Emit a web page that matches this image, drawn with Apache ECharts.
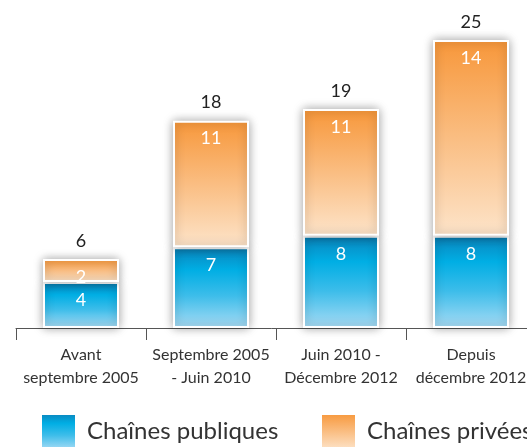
<!DOCTYPE html>
<html>
<head>
<meta charset="utf-8">
<script src="https://cdn.jsdelivr.net/npm/echarts@6/dist/echarts.min.js"></script>
<style>
  html, body { margin: 0; padding: 0; background: #fff; }
  #main { width: 527px; height: 447px; }
</style>
</head>
<body>
<div id="main"></div>
<script>
  // periodes
  var categories = ['Avant\nseptembre 2005', 'Septembre 2005\n- Juin 2010', 'Juin 2010 -\nDécembre 2012', 'Depuis\ndécembre 2012'];
  var publiques = [4, 7, 8, 8];
  // hauteur dessinee dans l'original (la derniere barre monte jusqu'a 25)
  var privees = [2, 11, 11, 17];
  // valeurs affichees dans les barres
  var priveesLabels = [2, 11, 11, 14];
  var totals = [6, 18, 19, 25];

  var font = 'Lato, "Noto Sans", sans-serif';

  var blueGrad = new echarts.graphic.LinearGradient(0, 0, 0, 1, [
    { offset: 0, color: '#0b83bb' },
    { offset: 0.28, color: '#00aee4' },
    { offset: 0.6, color: '#3dbdea' },
    { offset: 1, color: '#a9dcf5' }
  ]);
  var orangeGrad = new echarts.graphic.LinearGradient(0, 0, 0, 1, [
    { offset: 0, color: '#f7973a' },
    { offset: 1, color: '#fde4ca' }
  ]);

  var legendBase = {
    top: 413,
    padding: 0,
    itemWidth: 35,
    itemHeight: 35,
    icon: 'rect',
    textStyle: { fontSize: 24, color: '#333', fontFamily: font, padding: [0, 0, 0, 6] }
  };

  var myChart = echarts.init(document.getElementById('main'));
  myChart.setOption({
    animation: false,
    textStyle: { fontFamily: font },
    grid: {
      left: 16,
      right: -9,
      top: 40,
      bottom: 119,
      outerBoundsMode: 'none'
    },
    legend: [
      Object.assign({ data: ['Chaînes publiques'], left: 40 }, legendBase),
      Object.assign({ data: ['Chaînes privées'], left: 320 }, legendBase)
    ],
    xAxis: {
      type: 'category',
      data: categories,
      axisLine: { lineStyle: { color: '#555', width: 1 } },
      axisTick: { show: true, length: 12, lineStyle: { color: '#555' } },
      axisLabel: { color: '#333', fontSize: 16, lineHeight: 23, margin: 15, interval: 0 }
    },
    yAxis: {
      type: 'value',
      min: 0,
      max: 25,
      show: false,
      splitLine: { show: false }
    },
    series: [
      {
        name: 'Chaînes publiques',
        type: 'bar',
        stack: 'all',
        barWidth: 76,
        data: publiques,
        itemStyle: {
          color: blueGrad,
          borderColor: '#fff',
          borderWidth: 2,
          shadowBlur: 10,
          shadowColor: 'rgba(0,0,0,0.35)'
        },
        label: { show: true, position: 'insideTop', distance: 9, color: '#fff', fontSize: 18 }
      },
      {
        name: 'Chaînes privées',
        type: 'bar',
        stack: 'all',
        barWidth: 76,
        data: privees,
        itemStyle: {
          color: orangeGrad,
          borderColor: '#fff',
          borderWidth: 2,
          shadowBlur: 10,
          shadowColor: 'rgba(0,0,0,0.35)'
        },
        label: {
          show: true, position: 'insideTop', distance: 9, color: '#fff', fontSize: 18,
          formatter: function (p) { return priveesLabels[p.dataIndex]; }
        }
      },
      {
        // totaux au-dessus des barres
        name: 'total',
        type: 'bar',
        barWidth: 76,
        barGap: '-100%',
        data: totals,
        silent: true,
        z: 1,
        itemStyle: { color: 'rgba(0,0,0,0)' },
        label: { show: true, position: 'top', distance: 9, color: '#222', fontSize: 18 }
      }
    ]
  });
</script>
</body>
</html>
